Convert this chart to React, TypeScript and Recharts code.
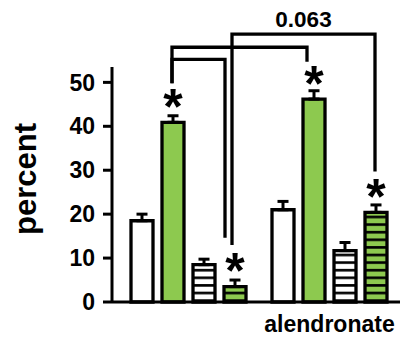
import { Bar, BarChart, ErrorBar, LabelList, XAxis, YAxis } from "recharts";

const groups = ["", "alendronate"];
const plain = [18.5, 21.0];
const plainErr = [1.5, 1.9];
const green = [40.9, 46.2];
const greenErr = [1.5, 1.9];
const plainStriped = [8.5, 11.7];
const plainStripedErr = [1.25, 1.85];
const greenStriped = [3.5, 20.4];
const greenStripedErr = [1.5, 1.7];
const yTicks = [0, 10, 20, 30, 40, 50];

// significance brackets: bar = [group, series], v = value where each leg ends
const brackets = [
  { from: [0, 1], fromV: 49.8, to: [1, 1], toV: 54.7, top: 58.0, label: "" },
  { from: [0, 1], fromV: 49.8, to: [0, 3], toV: 14.6, top: 55.25, label: "" },
  { from: [0, 3], fromV: 13.0, to: [1, 3], toV: 29.7, top: 61.0, label: "0.063" },
];
// small horizontal nudges of the legs, px
const legNudge = [
  [-1, -7],
  [-1, -10],
  [-3, -1],
];

const GREEN = "#8dc94f";
const FONT = "'Liberation Sans', Arial, sans-serif";
const W = 405;
const H = 339;
const PLOT = { left: 112, top: 67, width: 288, height: 235 };
const Y_MAX = 53.5;
const X_PAD = 6;
const BAR = 22;
const GAP = 9;
const STAR = 50;

const data = groups.map((g, i) => ({
  group: g,
  plain: plain[i],
  plainErr: [0, plainErr[i]],
  green: green[i],
  greenErr: [0, greenErr[i]],
  plainStriped: plainStriped[i],
  plainStripedErr: [0, plainStripedErr[i]],
  greenStriped: greenStriped[i],
  greenStripedErr: [0, greenStripedErr[i]],
}));

const yPx = (v: number) => PLOT.top + PLOT.height * (1 - v / Y_MAX);
const barCenter = (g: number, s: number) => {
  const band = (PLOT.width - X_PAD) / 2;
  const off = Math.floor((band - (4 * BAR + 3 * GAP)) / 2);
  return PLOT.left + X_PAD + g * band + off + s * (BAR + GAP) + BAR / 2;
};

function Star(props: any) {
  const x = Number(props.x) + Number(props.width) / 2;
  const y = Number(props.y) - 27 + 0.57 * STAR;
  return (
    <text x={x} y={y} textAnchor="middle" fontSize={STAR} fontWeight="bold" fontFamily={FONT} fill="#000">
      *
    </text>
  );
}

function Brackets() {
  return (
    <g>
      {brackets.map((b, i) => {
        const x1 = barCenter(b.from[0], b.from[1]) + legNudge[i][0];
        const x2 = barCenter(b.to[0], b.to[1]) + legNudge[i][1];
        const yt = yPx(b.top);
        return (
          <g key={i}>
            <polyline
              points={`${x1},${yPx(b.fromV)} ${x1},${yt} ${x2},${yt} ${x2},${yPx(b.toV)}`}
              fill="none"
              stroke="#000"
              strokeWidth={3.3}
            />
            {b.label && (
              <text x={(x1 + x2) / 2} y={yt - 7.5} textAnchor="middle" fontSize={22.5} fontWeight="bold" fontFamily={FONT} fill="#000">
                {b.label}
              </text>
            )}
          </g>
        );
      })}
    </g>
  );
}

function YLabel(props: any) {
  const vb = props.viewBox || {};
  const x = Number(vb.x ?? 0) + 35.5;
  const y = Number(vb.y ?? 0) + Number(vb.height ?? 0) / 2 - 5.5;
  return (
    <text x={x} y={y} transform={`rotate(-90 ${x} ${y})`} textAnchor="middle" fontSize={31} fontWeight="bold" fontFamily={FONT} fill="#000">
      percent
    </text>
  );
}

function XTick(props: any) {
  const { x, y, payload } = props;
  return (
    <text x={x} y={Number(y) + 30} textAnchor="middle" fontSize={23} fontWeight="bold" fontFamily={FONT} fill="#000">
      {payload.value}
    </text>
  );
}

export default function App() {
  return (
    <div style={{ position: "absolute", left: 0, top: 0, width: W, height: H, background: "#fff" }}>
      <BarChart
        width={W}
        height={H}
        data={data}
        margin={{ top: PLOT.top, right: W - PLOT.left - PLOT.width, bottom: 0, left: 0 }}
        barSize={BAR}
        barGap={GAP}
      >
        <defs>
          <pattern id="hatchWhite" patternUnits="userSpaceOnUse" width={10} height={7.6}>
            <rect width={10} height={7.6} fill="#fff" />
            <rect y={2.9} width={10} height={2.6} fill="#000" />
          </pattern>
          <pattern id="hatchGreen" patternUnits="userSpaceOnUse" width={10} height={7.6}>
            <rect width={10} height={7.6} fill={GREEN} />
            <rect y={2.9} width={10} height={2.6} fill="#000" />
          </pattern>
        </defs>
        <XAxis
          dataKey="group"
          height={H - PLOT.top - PLOT.height}
          padding={{ left: X_PAD, right: 0 }}
          axisLine={{ stroke: "#000", strokeWidth: 3 }}
          tickLine={false}
          tickSize={0}
          tickMargin={0}
          tick={<XTick />}
          interval={0}
        />
        <YAxis
          width={PLOT.left}
          domain={[0, Y_MAX]}
          ticks={yTicks}
          interval={0}
          axisLine={{ stroke: "#000", strokeWidth: 3 }}
          tickLine={{ stroke: "#000", strokeWidth: 3 }}
          tickSize={9}
          tickMargin={8}
          tick={{ fontSize: 23, fontWeight: "bold", fill: "#000", fontFamily: FONT }}
          label={<YLabel />}
        />
        <Bar dataKey="plain" fill="#fff" stroke="#000" strokeWidth={3.3} isAnimationActive={false}>
          <ErrorBar dataKey="plainErr" direction="y" width={5.5} stroke="#000" strokeWidth={3} />
        </Bar>
        <Bar dataKey="green" fill={GREEN} stroke="#000" strokeWidth={3.3} isAnimationActive={false}>
          <ErrorBar dataKey="greenErr" direction="y" width={5.5} stroke="#000" strokeWidth={3} />
          <LabelList dataKey="green" content={<Star />} />
        </Bar>
        <Bar dataKey="plainStriped" fill="url(#hatchWhite)" stroke="#000" strokeWidth={3.3} isAnimationActive={false}>
          <ErrorBar dataKey="plainStripedErr" direction="y" width={5.5} stroke="#000" strokeWidth={3} />
        </Bar>
        <Bar dataKey="greenStriped" fill="url(#hatchGreen)" stroke="#000" strokeWidth={3.3} isAnimationActive={false}>
          <ErrorBar dataKey="greenStripedErr" direction="y" width={5.5} stroke="#000" strokeWidth={3} />
          <LabelList dataKey="greenStriped" content={<Star />} />
        </Bar>
        <Brackets />
      </BarChart>
    </div>
  );
}
